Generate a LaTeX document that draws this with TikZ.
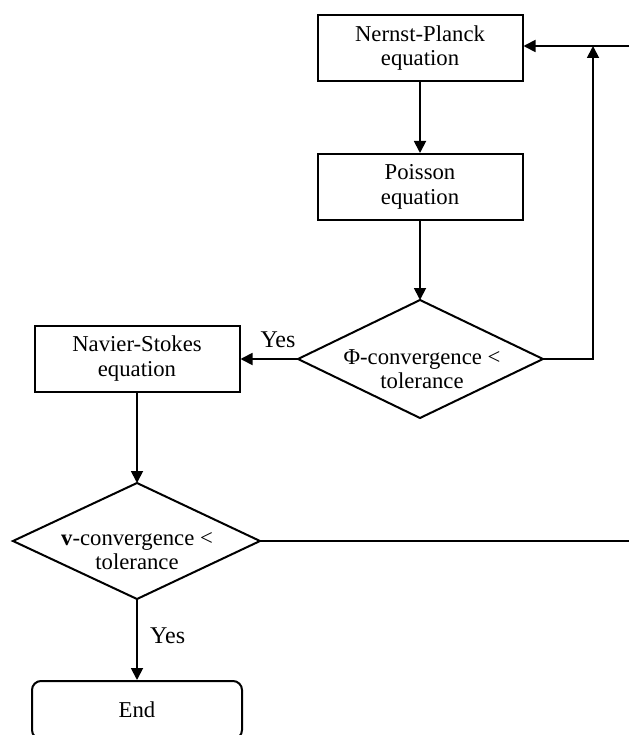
\documentclass[tikz,border=0pt]{standalone}
\usepackage{fontspec}
\setmainfont{Liberation Serif}
\usetikzlibrary{arrows.meta}
\begin{document}
\begin{tikzpicture}[x=1pt,y=-1pt,
  every node/.style={font=\fontsize{22.7}{24.5}\selectfont},
  box/.style={draw,line width=2pt,minimum width=205pt,minimum height=66pt,inner sep=0pt,align=center},
  endbox/.style={draw,line width=2pt,rounded corners=9pt,minimum width=210pt,minimum height=58pt,inner sep=0pt},
  dtext/.style={align=center,inner sep=0pt},
  lbl/.style={font=\fontsize{24}{26}\selectfont,inner sep=0pt},
  shape line/.style={line width=2pt,line join=miter},
  conn/.style={line width=1.8pt,-{Triangle[length=12pt,width=12pt]}},
  plain/.style={line width=1.8pt}]
\useasboundingbox (0,0) rectangle (629,735);
\clip (0,0) rectangle (629,735);
% boxes
\node[box] (np) at (420,48) {Nernst-Planck\\equation};
\node[box] (po) at (420,187) {Poisson\\equation};
\node[box] (ns) at (137,358.5) {Navier-Stokes\\equation};
\node[endbox] (end) at (137,710) {End};
% diamond 1
\coordinate (d1n) at (420,300);
\coordinate (d1e) at (543,359);
\coordinate (d1s) at (420,418);
\coordinate (d1w) at (298,359);
\draw[shape line] (d1n) -- (d1e) -- (d1s) -- (d1w) -- cycle;
\node[dtext] (d1) at (422,369) {Φ-convergence <\\tolerance};
% diamond 2
\coordinate (d2n) at (137,483);
\coordinate (d2e) at (260,541);
\coordinate (d2s) at (137,599);
\coordinate (d2w) at (13,541);
\draw[shape line] (d2n) -- (d2e) -- (d2s) -- (d2w) -- cycle;
\node[dtext] (d2) at (137,551) {\textbf{v}-convergence <\\tolerance};
% labels
\node[lbl,anchor=base] (y1) at (278,347) {Yes};
\node[lbl,anchor=base west] (y2) at (150,643) {Yes};
% helper coordinates
\coordinate (c1) at (593,359);
\coordinate (r1) at (629,46);
\coordinate (r2) at (629,541);
% connectors
\draw[conn] (np.south) -- (po.north);
\draw[conn] (po.south) -- (d1n);
\draw[conn] (d1w) -- (ns.east |- d1w);
\draw[conn] (d1e) -- (c1) -- (c1 |- r1);
\draw[conn] (r1) -- (np.east |- r1);
\draw[conn] (ns.south) -- (d2n);
\draw[plain] (d2e) -- (r2);
\draw[conn] (d2s) -- (end.north);
\end{tikzpicture}
\end{document}
